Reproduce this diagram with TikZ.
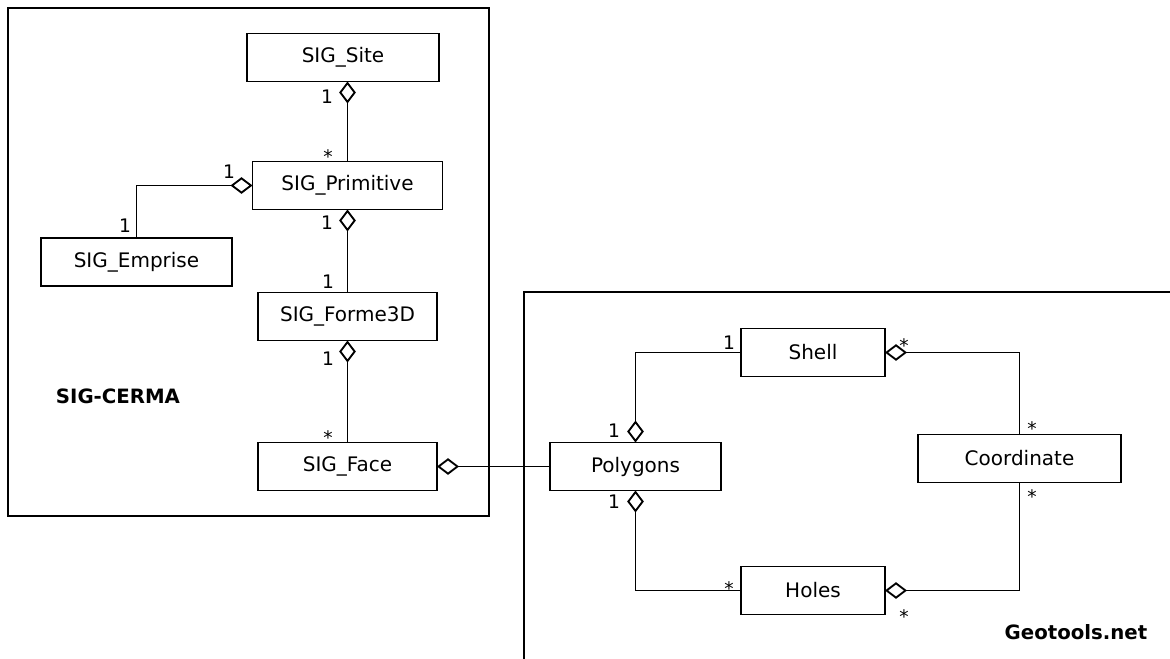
\documentclass[tikz,border=0pt]{standalone}
\usepackage{fontspec}
\setsansfont{DejaVu Sans}
\usepackage{tkz-graph}
\usetikzlibrary{arrows.meta}
\usetikzlibrary{shapes}

\begin{document}
\begin{tikzpicture}[x = 0.75pt, y = -0.75pt, font=\sffamily\fontsize{15}{17}\selectfont, line width = 1.05pt]
	\tikzstyle{VertexStyle} = []
	\tikzstyle{EdgeStyle} = []
	\tikzstyle{classStyle}=[shape = rectangle, draw, minimum height = 36pt, inner sep = 0pt]
	\tikzstyle{aggrStyle}=[{Diamond[open, length = 16.5pt, width = 12.5pt, line width = 1.4pt]}-]
	\tikzstyle{oneStyle}=[anchor = base, inner sep = 0pt, font = \sffamily\fontsize{14}{16}\selectfont]
	\tikzstyle{manyStyle}=[oneStyle]
	\tikzstyle{titleStyle}=[font = \sffamily\bfseries\fontsize{14.8}{17}\selectfont]
	\useasboundingbox (0,0) rectangle (1170,659);
	% packages
	\draw (8,8) rectangle (489,516);
	\draw (1170,292) -- (524,292) -- (524,659);
	\node[titleStyle] (tCerma) at (118,396) {SIG-CERMA};
	\node[titleStyle] (tGeotools) at (1076,632) {Geotools.net};
	% classes
	\Vertex[style = {classStyle, minimum width = 144pt}, x = 343, y = 57.5, L = {SIG\_Site}]{vSite}
	\Vertex[style = {classStyle, minimum width = 142.5pt}, x = 347.5, y = 185.5, L = {SIG\_Primitive}]{vPrimitive}
	\Vertex[style = {classStyle, minimum width = 143.25pt}, x = 136.5, y = 262, L = {SIG\_Emprise}]{vEmprise}
	\Vertex[style = {classStyle, minimum width = 134.25pt}, x = 347.5, y = 316.5, L = {SIG\_Forme3D}]{vForme}
	\Vertex[style = {classStyle, minimum width = 134.25pt}, x = 347.5, y = 466.5, L = {SIG\_Face}]{vFace}
	\Vertex[style = {classStyle, minimum width = 128.25pt}, x = 635.5, y = 466.5, L = {Polygons}]{vPolygons}
	\Vertex[style = {classStyle, minimum width = 108pt}, x = 813, y = 352.5, L = {Shell}]{vShell}
	\Vertex[style = {classStyle, minimum width = 108pt}, x = 813, y = 590.5, L = {Holes}]{vHoles}
	\Vertex[style = {classStyle, minimum width = 152.25pt}, x = 1019.5, y = 458.5, L = {Coordinate}]{vCoordinate}
	% aggregations
	\draw[aggrStyle] (vSite.south -| vPrimitive.north) -- (vPrimitive.north);
	\draw[aggrStyle] (vPrimitive.west) -| (vEmprise.north);
	\draw[aggrStyle] (vPrimitive.south) -- (vForme.north);
	\draw[aggrStyle] (vForme.south) -- (vFace.north);
	\draw[aggrStyle] (vFace.east) -- (vPolygons.west);
	\draw[aggrStyle] (vPolygons.north) |- (vShell.west);
	\draw[aggrStyle] (vPolygons.south) |- (vHoles.west);
	\draw[aggrStyle] (vShell.east) -| (vCoordinate.north);
	\draw[aggrStyle] (vHoles.east) -| (vCoordinate.south);
	% multiplicities
	\node[oneStyle] (m1) at (327,104) {1};
	\node[manyStyle] (m2) at (328,164) {*};
	\node[oneStyle] (m3) at (229,179) {1};
	\node[oneStyle] (m4) at (125,233) {1};
	\node[oneStyle] (m5) at (327,230) {1};
	\node[oneStyle] (m6) at (328,288) {1};
	\node[oneStyle] (m7) at (328,365) {1};
	\node[manyStyle] (m8) at (328,444) {*};
	\node[oneStyle] (m9) at (614,437) {1};
	\node[oneStyle] (m10) at (729,349) {1};
	\node[oneStyle] (m11) at (614,508) {1};
	\node[manyStyle] (m12) at (729,595) {*};
	\node[manyStyle] (m13) at (904,352) {*};
	\node[manyStyle] (m14) at (1032,435) {*};
	\node[manyStyle] (m15) at (1032,503) {*};
	\node[manyStyle] (m16) at (904,623) {*};
\end{tikzpicture}
\end{document}
